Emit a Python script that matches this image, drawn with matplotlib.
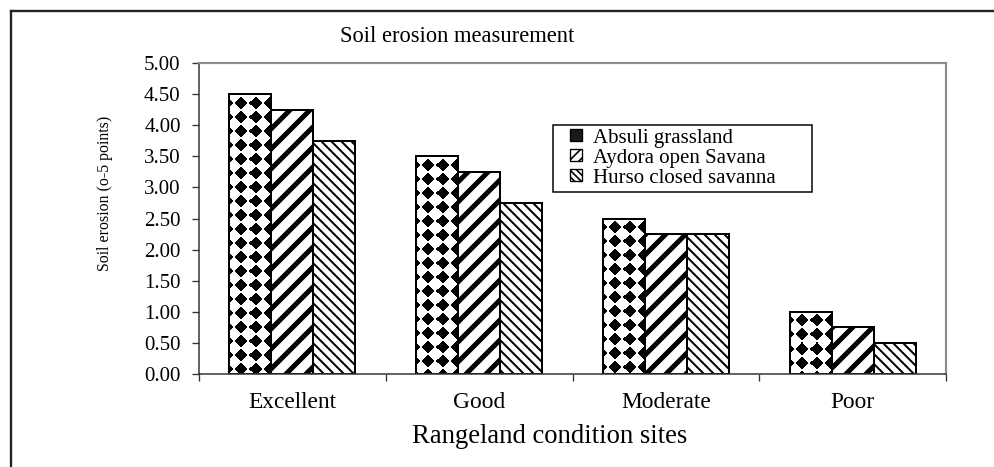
import numpy as np
import matplotlib
matplotlib.use("Agg")
import matplotlib.pyplot as plt
from matplotlib.patches import Patch
from matplotlib.legend_handler import HandlerPatch
from matplotlib.lines import Line2D

sites = ["Excellent", "Good", "Moderate", "Poor"]
absuli = [4.50, 3.50, 2.50, 1.00]
aydora = [4.25, 3.25, 2.25, 0.75]
hurso = [3.75, 2.75, 2.25, 0.50]
series_names = ["Absuli grassland", "Aydora open Savana", "Hurso closed savanna"]
yticks = [0.0, 0.5, 1.0, 1.5, 2.0, 2.5, 3.0, 3.5, 4.0, 4.5, 5.0]

W, H, DPI = 994, 467, 120
plt.rcParams['font.family'] = ['Liberation Serif', 'DejaVu Serif']

fig = plt.figure(figsize=(W / DPI, H / DPI), dpi=DPI)
ax = fig.add_axes([199 / W, 1 - 374 / H, (946 - 199) / W, (374 - 63) / H])

x = np.arange(len(sites))
bw = 0.225


def hatched_bars(xpos, vals, hatch, hlw):
    with plt.rc_context({'hatch.linewidth': hlw}):
        bars = ax.bar(xpos, vals, bw, facecolor='white', edgecolor='black',
                      linewidth=1.2, hatch=hatch, zorder=1)
    for b in bars:
        if hasattr(b, "set_hatch_linewidth"):
            b.set_hatch_linewidth(hlw)
    return bars


bars_a = ax.bar(x - bw, absuli, bw, facecolor='none', edgecolor='black',
                linewidth=1.2, zorder=1)
bars_b = hatched_bars(x, aydora, '//', 3.0)
bars_c = hatched_bars(x + bw, hurso, '\\\\\\\\', 1.2)

ax.set_xlim(-0.5, 3.5)
ax.set_ylim(0, 5)

# diamond texture for the first series, drawn in pixel units and clipped to each bar
for b in bars_a:
    bb = b.get_window_extent()
    w = int(round(bb.width))
    h = int(round(bb.height))
    X, Y = np.meshgrid(np.arange(w) + 0.5, np.arange(h) + 0.5)
    dx = (X - 12 + 7) % 14 - 7
    dy = (Y - 9 + 7) % 14 - 7
    img = np.where(np.abs(dx) + np.abs(dy) <= 6.3, 0.0, 1.0)
    im = ax.imshow(img, cmap='gray', vmin=0, vmax=1, origin='upper',
                   extent=(b.get_x(), b.get_x() + b.get_width(), 0, b.get_height()),
                   aspect='auto', interpolation='nearest', zorder=0.5)
    im.set_clip_path(b)

ax.set_xlim(-0.5, 3.5)
ax.set_ylim(0, 5)

ax.set_yticks(yticks)
ax.set_yticklabels([f"{v:.2f}" for v in yticks], fontsize=12.5)
ax.tick_params(axis='y', direction='out', length=4, width=0.8, color='#333333', pad=7)
ax.set_xticks(x)
ax.set_xticklabels(sites, fontsize=14)
ax.set_xticks(np.arange(len(sites) + 1) - 0.5, minor=True)
ax.tick_params(axis='x', which='major', length=0, pad=11)
ax.tick_params(axis='x', which='minor', direction='out', length=4, width=0.8, color='#333333')

for s in ['left', 'bottom']:
    ax.spines[s].set_color('#333333')
    ax.spines[s].set_linewidth(0.9)
for s in ['top', 'right']:
    ax.spines[s].set_color('#8c8c8c')
    ax.spines[s].set_linewidth(1.3)

ax.set_xlabel("Rangeland condition sites", fontsize=16)
ax.xaxis.set_label_coords((550 - 199) / 747, -0.16)
ax.set_ylabel("Soil erosion (o-5 points)", fontsize=9.5)
ax.yaxis.set_label_coords(-0.115, 0.58)

fig.text(457 / W, 1 - 37 / H, "Soil erosion measurement", fontsize=13.5,
         ha='center', va='center')

handles = [
    Patch(facecolor='#1a1a1a', edgecolor='black', linewidth=0.8),
    Patch(facecolor='white', edgecolor='black', linewidth=0.8, hatch='////'),
    Patch(facecolor='white', edgecolor='black', linewidth=0.8, hatch='\\\\\\\\\\\\'),
]
leg = fig.legend(handles, series_names, loc='upper left',
                 bbox_to_anchor=(553 / W, 1 - 125 / H, (812 - 553) / W, 0.001),
                 mode='expand', borderaxespad=0, fontsize=12.5, frameon=True,
                 fancybox=False, edgecolor='black', framealpha=1,
                 handlelength=1.2, handleheight=0.5, handletextpad=0.5,
                 labelspacing=0.05, borderpad=0.2,
                 handler_map={Patch: HandlerPatch(xpad=0.6)})
leg.get_frame().set_linewidth(0.9)

# outer chart frame
fig.add_artist(Line2D([11 / W, 11 / W], [0, 1 - 11 / H], transform=fig.transFigure,
                      color='#222222', linewidth=1.4))
fig.add_artist(Line2D([11 / W, 1], [1 - 11 / H, 1 - 11 / H], transform=fig.transFigure,
                      color='#222222', linewidth=1.4))

fig.savefig("out.png", dpi=DPI)
